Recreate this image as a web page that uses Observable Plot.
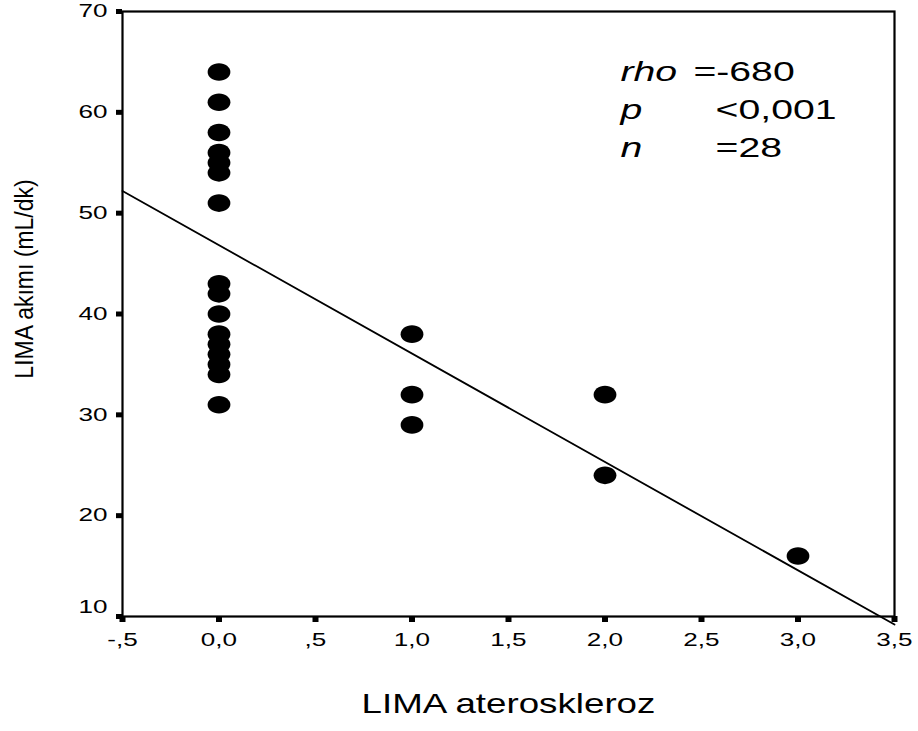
<!DOCTYPE html>
<html>
<head>
<meta charset="utf-8">
<script src="https://cdn.jsdelivr.net/npm/d3@7"></script>
<script src="https://cdn.jsdelivr.net/npm/@observablehq/plot@0.6"></script>
<style>
  html, body { margin: 0; padding: 0; background: #fff; }
</style>
</head>
<body>
<div id="chart"></div>
<script>
// ---- Data ----
const atherosclerosis = [0,0,0,0,0,0,0,0,0,0,0,0,0,0,0,0, 1,1,1, 2,2, 3];
const limaFlow        = [64,61,58,56,55,54,51,43,42,40,38,37,36,35,34,31, 38,32,29, 32,24, 16];
// fitted line as drawn in the figure (end values at x = -0.5 and x = 3.5)
const lineX = [-0.5, 3.5];
const lineY = [52.2, 9.2];
const xTicks = [-0.5, 0, 0.5, 1, 1.5, 2, 2.5, 3, 3.5];
const xTickLabels = ["-,5", "0,0", ",5", "1,0", "1,5", "2,0", "2,5", "3,0", "3,5"];
const yTicks = [10, 20, 30, 40, 50, 60, 70];
const statNames = ["rho", "p", "n"];
const statValues = ["=-680", "<0,001", "=28"];
const xTitle = "LIMA ateroskleroz";
const yTitle = "LIMA akımı (mL/dk)";

// ---- Build tables ----
const points = atherosclerosis.map((x, i) => ({x, y: limaFlow[i]}));
const fitLine = lineX.map((x, i) => ({x, y: lineY[i]}));
const stats = statNames.map((name, i) => ({name, value: statValues[i], row: i}));

// annotation placement (data space)
const statNameX = 2.08, statValueX = [2.458, 2.573, 2.573];
const statRowY = [63.95, 60.23, 56.46];

// ellipse symbol (the original figure is stretched horizontally)
const ellipse = {
  draw(ctx) {
    const rx = 11.4, ry = 8.8, k = 0.5523;
    ctx.moveTo(rx, 0);
    ctx.bezierCurveTo(rx, k * ry, k * rx, ry, 0, ry);
    ctx.bezierCurveTo(-k * rx, ry, -rx, k * ry, -rx, 0);
    ctx.bezierCurveTo(-rx, -k * ry, -k * rx, -ry, 0, -ry);
    ctx.bezierCurveTo(k * rx, -ry, rx, -k * ry, rx, 0);
    ctx.closePath();
  }
};

const chart = Plot.plot({
  width: 918,
  height: 731,
  marginLeft: 122,
  marginRight: 24,
  marginTop: 11,
  marginBottom: 115,
  style: {fontFamily: "'Liberation Sans', Arial, sans-serif", fontSize: "18px", color: "black", background: "white"},
  x: {domain: [-0.5, 3.5]},
  y: {domain: [10, 70]},
  marks: [
    Plot.axisX(xTicks, {tickSize: 6, tickPadding: 11, strokeWidth: 6, label: null, fontSize: 18,
      tickFormat: d => xTickLabels[xTicks.indexOf(d)]}),
    Plot.axisY(yTicks, {tickSize: 6, tickPadding: 9, strokeWidth: 5, label: null, fontSize: 18}),
    Plot.frame({stroke: "black", strokeWidth: 2.2}),
    Plot.line(fitLine, {x: "x", y: "y", stroke: "black", strokeWidth: 1.8}),
    Plot.dot(points, {x: "x", y: "y", symbol: ellipse, r: 10, fill: "black", stroke: "none"}),
    Plot.text(stats, {x: () => statNameX, y: d => statRowY[d.row], text: "name",
      textAnchor: "start", fontSize: 28, fontStyle: "italic", fill: "black"}),
    Plot.text(stats, {x: d => statValueX[d.row], y: d => statRowY[d.row], text: "value",
      textAnchor: "start", fontSize: 28, fill: "black"}),
    Plot.text([xTitle], {frameAnchor: "bottom", textAnchor: "middle", lineAnchor: "middle",
      dy: 88, fontSize: 27, fill: "black"}),
    Plot.text([yTitle], {frameAnchor: "left", textAnchor: "middle", lineAnchor: "middle",
      rotate: -90, dx: -98, dy: -35, fontSize: 23, fill: "black"})
  ]
});

document.getElementById("chart").append(chart);

// mimic the horizontal stretch of the original figure's lettering:
// scale each text around its own anchor point
chart.querySelectorAll("text").forEach(t => {
  const s = t.textContent;
  const prev = t.getAttribute("transform") || "";
  if (s === yTitle) {
    // rotated: local y maps to screen x
    t.setAttribute("transform", `${prev} scale(1,1.12)`.trim());
    return;
  }
  let f = 1.45;
  if (s === xTitle) f = 1.36;
  else if (statNames.includes(s) || statValues.includes(s)) f = 1.4;
  const ax = parseFloat(t.getAttribute("x")) || 0;
  const ay = parseFloat(t.getAttribute("y")) || 0;
  // the lowest y label sits a little above its tick in the original
  const lift = (s === String(yTicks[0])) ? " translate(0,-9)" : "";
  t.setAttribute("transform",
    `${prev}${lift} translate(${ax},${ay}) scale(${f},1) translate(${-ax},${-ay})`.trim());
});
</script>
</body>
</html>
